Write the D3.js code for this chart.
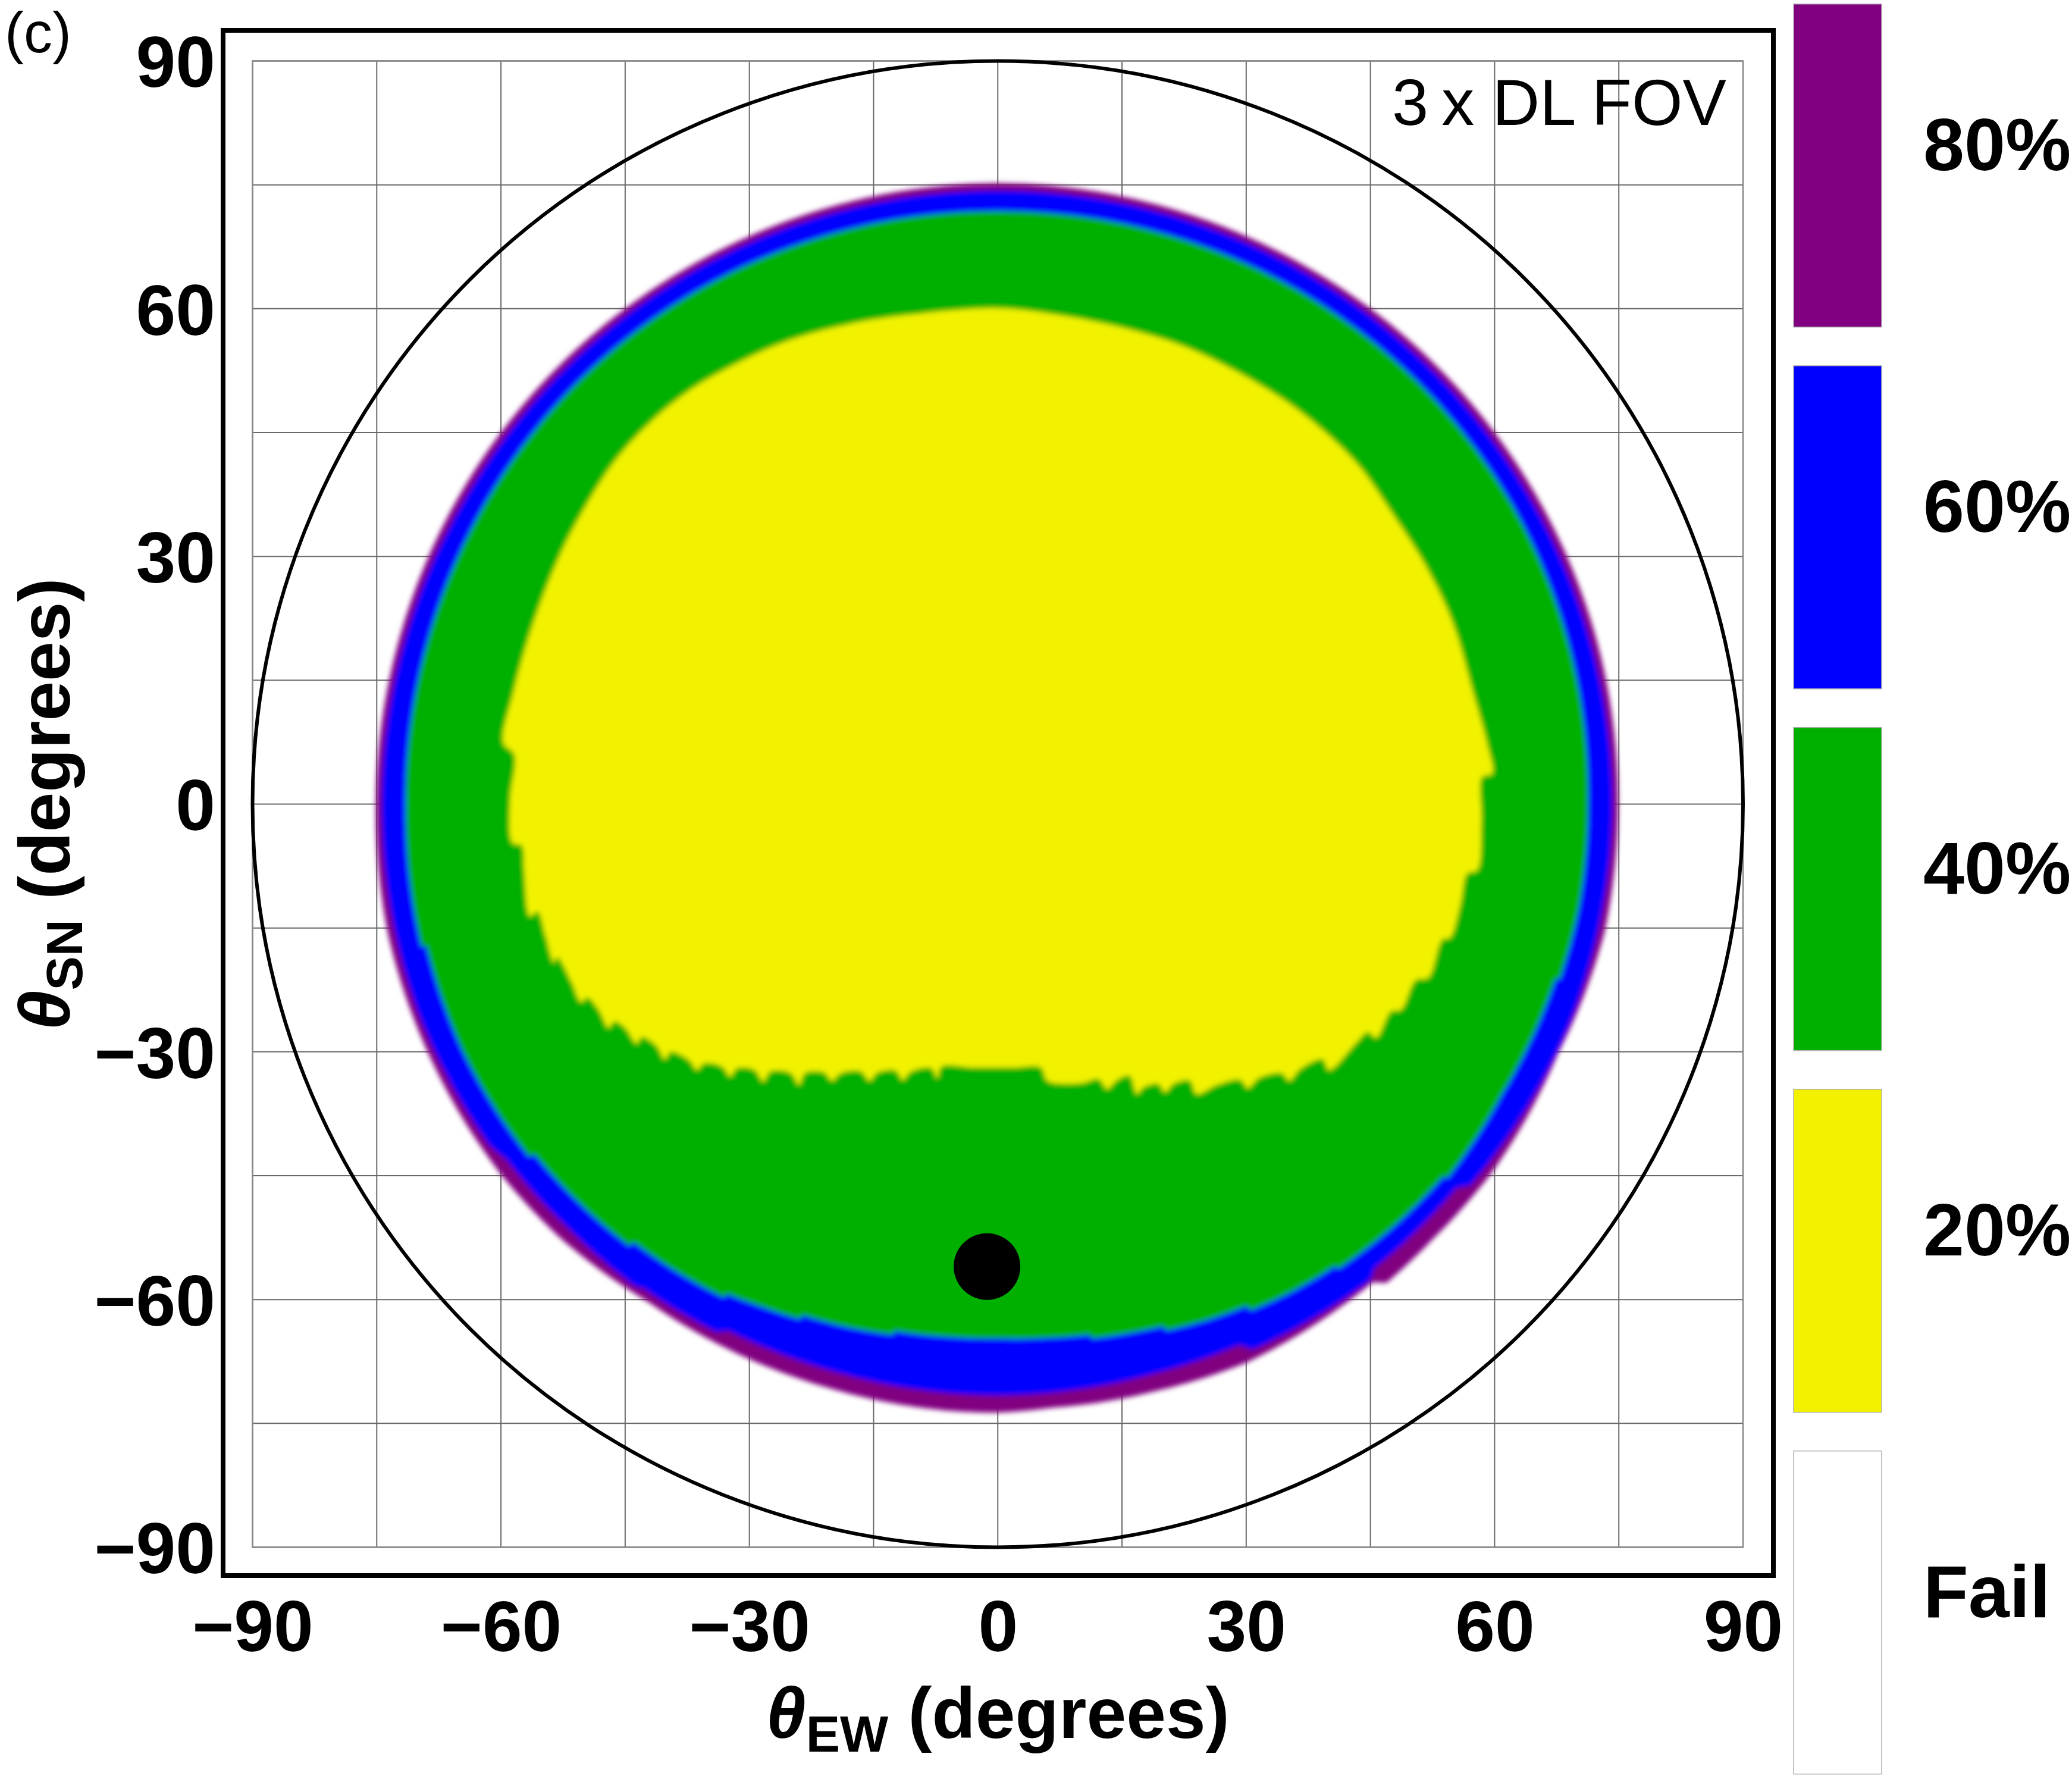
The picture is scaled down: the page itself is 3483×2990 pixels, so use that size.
<!DOCTYPE html>
<html>
<head>
<meta charset="utf-8">
<script src="https://cdn.jsdelivr.net/npm/d3@7"></script>
<style>
  body { margin: 0; background: #fff; }
</style>
</head>
<body>
<script>
// tick labels on both axes
const tickValues = [-90, -60, -30, 0, 30, 60, 90];
// grid every 15 degrees
const gridValues = [-90, -75, -60, -45, -30, -15, 0, 15, 30, 45, 60, 75, 90];

// legend
const levels = ["80%", "60%", "40%", "20%", "Fail"];
const levelColors = ["#800080", "#0000ff", "#00b000", "#f2f200", "#ffffff"];

// outer edge of the 80% (purple) ring: [angle deg, radius deg]
const purpleOuter = [
  [0, 74.9], [15, 75], [30, 75], [45, 75], [60, 75], [75, 75.1], [90, 75.2],
  [105, 75.1], [120, 75], [135, 75], [150, 75], [165, 75], [180, 75.1],
  [192, 75.3], [204, 75.1], [217, 74.9], [225, 74.5], [235, 73.6], [245, 73.6],
  [255, 73.6], [265, 73.7], [270, 73.7], [275, 73.4], [285, 73.6], [294, 74],
  [305, 73.6], [308, 73.5], [309, 74.6], [315, 74.4], [323, 74.5], [336, 74.1],
  [348, 74.9]
];

// outer edge of the 60% (blue) ring
const blueOuter = [
  [0, 74.2], [30, 74.2], [60, 74.3], [90, 74.3], [120, 74.3], [150, 74.2],
  [180, 74.4], [200, 74.4], [214, 74.0], [216, 73.3], [225, 73.0], [233, 73.0],
  [234, 72.6], [242, 72.4], [243, 71.6], [255, 71.5], [270, 71.6], [285, 71.5],
  [294, 71.7], [295, 72.9], [308, 73.1], [309, 72.3], [320, 72.3], [321, 73.4],
  [327, 73.6], [340, 74.0]
];

// outer edge of the 40% (green) zone
const greenOuter = [
  [0, 71.3], [15, 71.6], [30, 71.9], [45, 72], [60, 72], [75, 71.9], [90, 71.8],
  [105, 71.9], [120, 72], [135, 72], [150, 71.8], [165, 71.6], [180, 71.5],
  [193.9, 71.7], [194, 71.1], [205, 71.2], [217, 70.9], [217.2, 70.2], [224, 69.9],
  [230.2, 69.6], [230.4, 68.9], [236, 68.6], [241, 68.3], [241.2, 67.7], [245, 67.2],
  [249, 66.8], [249.2, 66.2], [254, 65.9], [258.8, 65.5], [259, 65.0], [265, 64.8],
  [270, 64.7], [275, 64.9], [279.8, 65.2], [280, 65.7], [284, 66.0], [287.5, 66.3],
  [287.7, 66.9], [292, 67.4], [296.3, 67.8], [296.5, 68.5], [301, 68.9], [306, 69.2],
  [306.2, 69.7], [313, 70.0], [320, 70.2], [320.2, 70.7], [330, 70.3], [342.5, 70.6],
  [342.7, 71.1], [350, 71.3]
];

// edge of the 20% (yellow) zone: [theta_EW, theta_SN], clockwise from the top
const yellowEdge = [
  [0, 60.05], [6.3, 59.4], [14.6, 57.8], [22.8, 55.3], [31.1, 51.1], [37.2, 47.0],
  [43.4, 41.2], [47.5, 35.4], [51.7, 28.8], [55.0, 21.8], [57.4, 13.5], [59.1, 7.3],
  [59.7, 3.7], [58.5, 3.3], [58.4, -2], [57.9, -8.0], [56.7, -8.4], [55.9, -12],
  [54.6, -16.2], [53.7, -16.4], [52.0, -21.0], [50.5, -21.3], [48.7, -24.9],
  [47.5, -25.1], [45.7, -28.3], [44.7, -27.6], [43.2, -29.0], [40.0, -32.2],
  [39.2, -30.9], [36.5, -32.1], [35.2, -33.5], [34.3, -32.6], [31.5, -33.2],
  [30.2, -34.4], [29.3, -33.4], [26.5, -34.0], [24.0, -35.1], [23.2, -33.5],
  [21.2, -33.9], [20.2, -34.9], [19.4, -33.9], [17.6, -34.3], [16.8, -35.1],
  [15.9, -32.9], [14.3, -33.5], [13.2, -34.5], [12.2, -33.3], [10.0, -33.8],
  [6.0, -33.5], [5.2, -31.9], [2, -31.9], [-3, -31.9], [-6.8, -31.8], [-7.3, -33.2],
  [-8, -32.0], [-10.5, -32.4], [-11.5, -33.4], [-12.3, -32.3], [-14.5, -32.5],
  [-15.5, -33.5], [-16.5, -32.4], [-19, -32.6], [-20, -33.5], [-21, -32.5],
  [-23.3, -32.6], [-24, -34.0], [-25, -32.6], [-27.5, -32.4], [-28.3, -33.6],
  [-29.4, -32.2], [-31.5, -32.0], [-32.3, -33.0], [-33.3, -31.8], [-35.5, -31.4],
  [-36.3, -32.2], [-37.3, -31.0], [-39.5, -30.0], [-40.2, -30.9], [-41.2, -29.3],
  [-43.0, -28.2], [-43.6, -29.0], [-45.0, -27.1], [-46.3, -26.3], [-47.0, -27.1],
  [-48.2, -24.9], [-49.6, -23.4], [-50.3, -24.0], [-51.5, -21.5], [-53.2, -18.5],
  [-53.6, -19.2], [-54.6, -16.0], [-55.6, -13.0], [-56.5, -13.6], [-57.2, -8],
  [-57.5, -5.0], [-58.6, -4.7], [-58.9, 0.4], [-58.4, 6.0], [-59.7, 7.4],
  [-58.5, 13.5], [-56.8, 19.7], [-54.8, 25.5], [-52.7, 30.5], [-50.6, 34.6],
  [-46.5, 41.2], [-42.4, 45.8], [-38.3, 49.3], [-34.1, 52.0], [-25.9, 55.9],
  [-17.6, 58.2], [-9.4, 59.4]
];

// satellite position (black dot)
const satellite = [[-1.3, -56.0]];

const width = 3483;
const height = 2990;
const font = "'Liberation Sans', Arial, sans-serif";

const svg = d3.select('body')
  .append('svg')
  .attr('width', width)
  .attr('height', height);

const x = d3.scaleLinear().domain([-90, 90]).range([424.5, 2930]);
const y = d3.scaleLinear().domain([-90, 90]).range([2600.5, 102.5]);

// blur for the soft edges of the colour map
const defs = svg.append('defs');
defs.append('filter')
  .attr('id', 'soft')
  .attr('x', '-5%').attr('y', '-5%')
  .attr('width', '110%').attr('height', '110%')
  .append('feGaussianBlur')
  .attr('stdDeviation', 4.5);

// grid
const grid = svg.append('g');
gridValues.forEach(v => {
  grid.append('line')
    .attr('x1', x(v)).attr('x2', x(v))
    .attr('y1', y(-90)).attr('y2', y(90))
    .attr('stroke', '#6a6a6a')
    .attr('stroke-width', 2);
  grid.append('line')
    .attr('x1', x(-90)).attr('x2', x(90))
    .attr('y1', y(v)).attr('y2', y(v))
    .attr('stroke', '#6a6a6a')
    .attr('stroke-width', 2);
});
grid.append('rect')
  .attr('x', x(-90)).attr('y', y(90))
  .attr('width', x(90) - x(-90))
  .attr('height', y(-90) - y(90))
  .attr('fill', 'none')
  .attr('stroke', '#888')
  .attr('stroke-width', 2.5);

// polar outline -> xy points, radius read piecewise from the listed values
function polarPath(list) {
  const rOf = d3.scaleLinear()
    .domain(list.map(d => d[0]).concat([list[0][0] + 360]))
    .range(list.map(d => d[1]).concat([list[0][1]]));
  const angles = Array.from(new Set(d3.range(0, 360, 0.5).concat(list.map(d => d[0])))).sort((a, b) => a - b);
  return angles.map(a => {
    const t = a * Math.PI / 180;
    const r = rOf(a);
    return [r * Math.cos(t), r * Math.sin(t)];
  });
}

const ring = d3.line()
  .x(d => x(d[0]))
  .y(d => y(d[1]))
  .curve(d3.curveLinearClosed);

const smooth = d3.line()
  .x(d => x(d[0]))
  .y(d => y(d[1]))
  .curve(d3.curveCatmullRomClosed.alpha(0.5));

const map = svg.append('g').attr('filter', 'url(#soft)');
map.append('path').attr('d', ring(polarPath(purpleOuter))).attr('fill', levelColors[0]);
map.append('path').attr('d', ring(polarPath(blueOuter))).attr('fill', levelColors[1]);
map.append('path').attr('d', ring(polarPath(greenOuter))).attr('fill', levelColors[2]);
map.append('path').attr('d', smooth(yellowEdge)).attr('fill', levelColors[3]);

// horizon circle (90 degrees)
svg.append('ellipse')
  .attr('cx', x(0)).attr('cy', y(0))
  .attr('rx', x(90) - x(0))
  .attr('ry', y(-90) - y(0))
  .attr('fill', 'none')
  .attr('stroke', '#000')
  .attr('stroke-width', 6);

// satellite dot
svg.selectAll('.sat')
  .data(satellite)
  .enter()
  .append('circle')
  .attr('class', 'sat')
  .attr('cx', d => x(d[0]))
  .attr('cy', d => y(d[1]))
  .attr('r', 56)
  .attr('fill', '#000');

// frame
svg.append('rect')
  .attr('x', 375).attr('y', 51)
  .attr('width', 2606).attr('height', 2597)
  .attr('fill', 'none')
  .attr('stroke', '#000')
  .attr('stroke-width', 8);

// axes
const xAxis = svg.append('g')
  .attr('transform', 'translate(0,2690)')
  .call(d3.axisBottom(x).tickValues(tickValues).tickSize(0).tickPadding(0));
const yAxis = svg.append('g')
  .attr('transform', 'translate(362,0)')
  .call(d3.axisLeft(y).tickValues(tickValues).tickSize(0).tickPadding(0));
[xAxis, yAxis].forEach(g => {
  g.select('.domain').remove();
  g.attr('font-family', font)
    .attr('font-size', 120)
    .attr('font-weight', 'bold');
  g.selectAll('text').attr('fill', '#000');
});
yAxis.selectAll('text').attr('dy', '0.36em');

// axis titles
const xTitle = svg.append('text')
  .attr('x', x(0)).attr('y', 2921)
  .attr('text-anchor', 'middle')
  .attr('font-family', font)
  .attr('font-size', 120)
  .attr('font-weight', 'bold');
xTitle.append('tspan').attr('font-style', 'italic').text('θ');
xTitle.append('tspan').attr('font-size', 86).attr('dy', 23).text('EW');
xTitle.append('tspan').attr('dy', -23).text(' (degrees)');

const yTitle = svg.append('text')
  .attr('transform', `translate(117,${y(0)}) rotate(-90)`)
  .attr('text-anchor', 'middle')
  .attr('font-family', font)
  .attr('font-size', 120)
  .attr('font-weight', 'bold');
yTitle.append('tspan').attr('font-style', 'italic').text('θ');
yTitle.append('tspan').attr('font-size', 86).attr('dy', 21).text('SN');
yTitle.append('tspan').attr('dy', -21).text(' (degrees)');

// panel label and annotation
svg.append('text')
  .attr('x', 8).attr('y', 88)
  .attr('font-family', font)
  .attr('font-size', 96)
  .text('(c)');

svg.append('text')
  .attr('x', 2902).attr('y', 210)
  .attr('text-anchor', 'end')
  .attr('font-family', font)
  .attr('font-size', 110)
  .text('3\u2009x DL FOV');

// legend
const legend = svg.append('g');
levels.forEach((name, i) => {
  const top = 6.7 + i * 608;
  legend.append('rect')
    .attr('x', 3015).attr('y', top)
    .attr('width', 148).attr('height', 543)
    .attr('fill', levelColors[i])
    .attr('stroke', '#b0b0b0')
    .attr('stroke-width', 1.5);
  legend.append('text')
    .attr('x', 3233).attr('y', top + 271.5 + 8)
    .attr('font-family', font)
    .attr('font-size', 124)
    .attr('font-weight', 'bold')
    .text(name);
});
</script>
</body>
</html>
